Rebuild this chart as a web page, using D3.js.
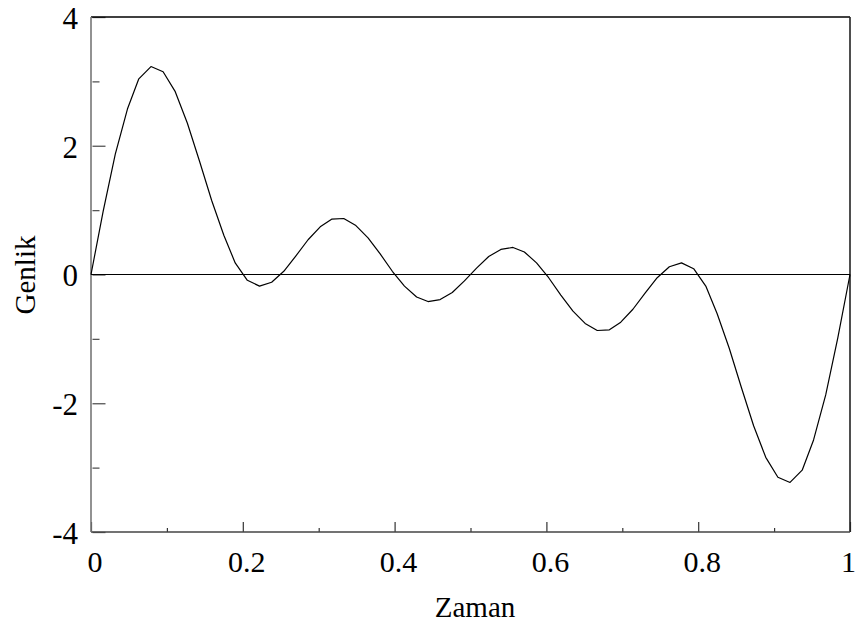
<!DOCTYPE html>
<html lang="tr">
<head>
    <meta charset="UTF-8">
    <title>Genlik - Zaman</title>
    <script src="https://cdnjs.cloudflare.com/ajax/libs/d3/7.8.5/d3.min.js"></script>
    <style>
        body { margin: 0; background: #fff; }
        svg { display: block; }
    </style>
</head>
<body>
<svg id="chart" width="856" height="622"></svg>
<script>
    const zaman = [0, .016, .032, .048, .063, .079, .095, .111, .127, .143, .159, .175, .190, .206, .222, .238,
        .254, .270, .286, .302, .317, .333, .349, .365, .381, .397, .413, .429, .444, .460, .476, .492,
        .508, .524, .540, .556, .571, .587, .603, .619, .635, .651, .667, .683, .698, .714, .730, .746,
        .762, .778, .794, .810, .825, .841, .857, .873, .889, .905, .921, .937, .952, .968, .984, 1];
    const genlik = [0, 0.98, 1.87, 2.57, 3.04, 3.23, 3.15, 2.84, 2.35, 1.76, 1.15, 0.61, 0.18, -0.09, -0.18, -0.12,
        0.05, 0.29, 0.54, 0.74, 0.86, 0.87, 0.76, 0.57, 0.32, 0.05, -0.18, -0.35, -0.42, -0.39, -0.28, -0.10,
        0.10, 0.28, 0.39, 0.42, 0.35, 0.18, -0.05, -0.32, -0.57, -0.76, -0.87, -0.86, -0.74, -0.54, -0.29, -0.05,
        0.12, 0.18, 0.09, -0.18, -0.61, -1.15, -1.76, -2.35, -2.84, -3.15, -3.23, -3.04, -2.57, -1.87, -0.98, 0];

    const xMajor = [0, 0.2, 0.4, 0.6, 0.8, 1];
    const xMinor = [0.1, 0.3, 0.5, 0.7, 0.9];
    const xLabels = ["0", "0.2", "0.4", "0.6", "0.8", "1"];
    const yMajor = [-4, -2, 0, 2, 4];
    const yMinor = [-3, -1, 1, 3];
    const yLabels = ["-4", "-2", "0", "2", "4"];

    const serif = "'Liberation Serif', 'DejaVu Serif', 'Times New Roman', serif";
    const plotLeft = 91, plotRight = 850, plotTop = 17, plotBottom = 532;
    const svg = d3.select("#chart");

    const x = d3.scaleLinear().domain([0, 1]).range([plotLeft, plotRight]);
    const y = d3.scaleLinear().domain([-4, 4]).range([plotBottom, plotTop]);

    // inward ticks: y axis on the left spine, x axis on the bottom spine
    svg.append("g")
        .attr("transform", `translate(${plotLeft + 1.5},0)`)
        .call(d3.axisRight(y).tickValues(yMajor).tickSize(13).tickFormat(""))
        .call(g => g.select(".domain").remove())
        .call(g => g.selectAll("line").attr("stroke", "#555").attr("stroke-width", 1.3));
    svg.append("g")
        .attr("transform", `translate(${plotLeft + 1.5},0)`)
        .call(d3.axisRight(y).tickValues(yMinor).tickSize(7).tickFormat(""))
        .call(g => g.select(".domain").remove())
        .call(g => g.selectAll("line").attr("stroke", "#555").attr("stroke-width", 1.3));

    svg.append("g")
        .attr("transform", `translate(0,${plotBottom})`)
        .call(d3.axisTop(x).tickValues(xMajor).tickSize(10).tickFormat(""))
        .call(g => g.select(".domain").remove())
        .call(g => g.selectAll("line").attr("stroke", "#333").attr("stroke-width", 1.2));
    svg.append("g")
        .attr("transform", `translate(0,${plotBottom})`)
        .call(d3.axisTop(x).tickValues(xMinor).tickSize(4).tickFormat(""))
        .call(g => g.select(".domain").remove())
        .call(g => g.selectAll("line").attr("stroke", "#333").attr("stroke-width", 1.2));

    // frame
    svg.append("line").attr("x1", plotLeft).attr("x2", plotRight).attr("y1", plotTop).attr("y2", plotTop)
        .attr("stroke", "#000").attr("stroke-width", 1.3);
    svg.append("line").attr("x1", plotRight).attr("x2", plotRight).attr("y1", plotTop).attr("y2", plotBottom)
        .attr("stroke", "#222").attr("stroke-width", 1.6);
    svg.append("line").attr("x1", plotLeft).attr("x2", plotRight).attr("y1", plotBottom).attr("y2", plotBottom)
        .attr("stroke", "#444").attr("stroke-width", 1.5);
    svg.append("line").attr("x1", plotLeft).attr("x2", plotLeft).attr("y1", plotTop).attr("y2", plotBottom)
        .attr("stroke", "#777").attr("stroke-width", 1.6);

    // zero line
    svg.append("line").attr("x1", plotLeft).attr("x2", plotRight).attr("y1", y(0)).attr("y2", y(0))
        .attr("stroke", "#000").attr("stroke-width", 1.2);

    // tick labels
    svg.append("g").selectAll("text")
        .data(xMajor)
        .join("text")
        .attr("x", (d, i) => i === xMajor.length - 1 ? 856 : x(d) + 4)
        .attr("y", 572)
        .attr("text-anchor", (d, i) => i === xMajor.length - 1 ? "end" : "middle")
        .attr("font-family", serif)
        .attr("font-size", 30)
        .text((d, i) => xLabels[i]);

    svg.append("g").selectAll("text")
        .data(yMajor)
        .join("text")
        .attr("x", 78)
        .attr("y", d => y(d) + 1)
        .attr("dy", "0.35em")
        .attr("text-anchor", "end")
        .attr("font-family", serif)
        .attr("font-size", 31)
        .text((d, i) => yLabels[i]);

    // axis titles
    svg.append("text")
        .attr("x", 475).attr("y", 617)
        .attr("text-anchor", "middle")
        .attr("font-family", serif)
        .attr("font-size", 29)
        .text("Zaman");
    svg.append("text")
        .attr("transform", `translate(35,275) rotate(-90)`)
        .attr("text-anchor", "middle")
        .attr("font-family", serif)
        .attr("font-size", 29)
        .text("Genlik");

    // signal
    const line = d3.line()
        .x((d, i) => x(zaman[i]))
        .y(d => y(d));
    svg.append("path")
        .datum(genlik)
        .attr("fill", "none")
        .attr("stroke", "#000")
        .attr("stroke-width", 1.2)
        .attr("stroke-linejoin", "round")
        .attr("d", line);
</script>
</body>
</html>
